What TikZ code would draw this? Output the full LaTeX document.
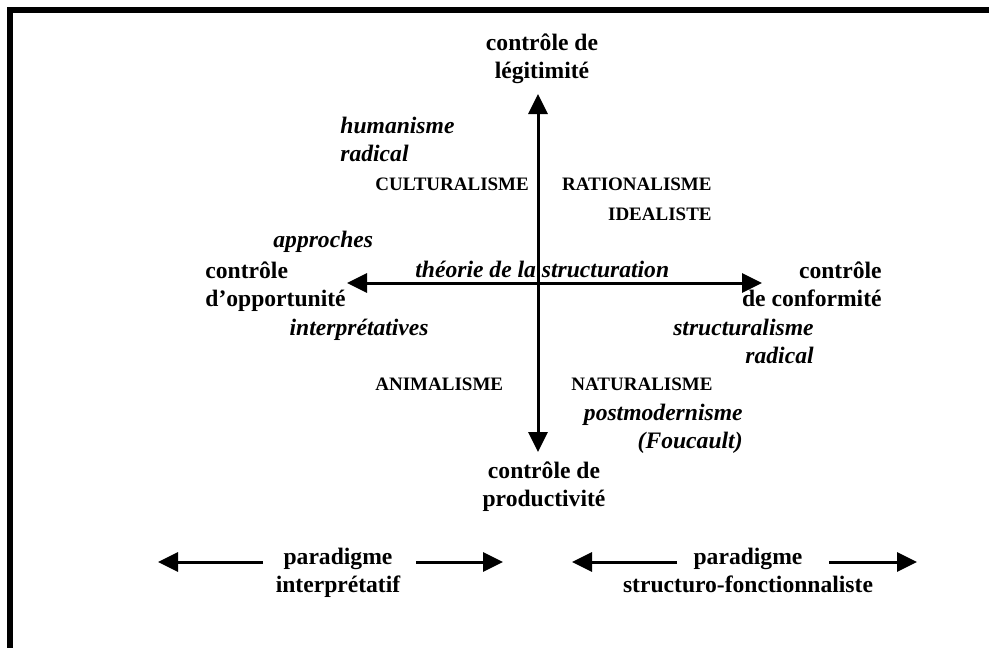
\documentclass[tikz,border=0pt]{standalone}
\usepackage{fontspec}
\setmainfont{Liberation Serif}
\usetikzlibrary{arrows.meta}

\begin{document}
\begin{tikzpicture}[x=0.5pt,y=-0.5pt]

  \tikzset{
    axislabel/.style={
      inner sep=0pt,
      align=center,
      font=\bfseries\fontsize{11.8}{14}\selectfont
    },
    schoollabel/.style={
      inner sep=0pt,
      font=\bfseries\itshape\fontsize{11.8}{14}\selectfont
    },
    capslabel/.style={
      inner sep=0pt,
      font=\bfseries\fontsize{9.5}{15}\selectfont
    },
    axisarrow/.style={
      line width=1.5pt,
      {Triangle[width=9.5pt,length=10pt]}-{Triangle[width=9.5pt,length=10pt]}
    },
    halfarrow/.style={
      line width=1.5pt,
      -{Triangle[width=9.5pt,length=10pt]}
    }
  }

  \useasboundingbox (0,0) rectangle (989,648);

  % frame
  \draw[line width=3pt, line join=miter] (989,10) -- (10,10) -- (10,648);

  % the two axes
  \coordinate (ytop) at (538,94);
  \coordinate (ybot) at (538,452);
  \coordinate (xleft) at (347,283);
  \coordinate (xright) at (762,283);

  \draw[axisarrow] (ybot) -- (ytop);
  \draw[axisarrow] (xleft) -- (xright);

  \node[axislabel, anchor=base] (legit) at (542,78) {contrôle de\\légitimité};
  \node[axislabel, anchor=base] (produc) at (544,506) {contrôle de\\productivité};
  \node[axislabel, anchor=base west, align=left] (opport) at (205,306) {contrôle\\d’opportunité};
  \node[axislabel, anchor=base east, align=right] (conform) at (882,306) {contrôle\\de conformité};

  % schools
  \node[schoollabel, anchor=base west, align=left] (human) at (340,161) {humanisme\\radical};
  \node[capslabel, anchor=base west] (cultur) at (375,190) {CULTURALISME};
  \node[capslabel, anchor=base east, align=right] (ration) at (712,220) {RATIONALISME\\IDEALISTE};
  \node[schoollabel, anchor=base west] (approch) at (273,247) {approches};
  \node[schoollabel, anchor=base west] (theorie) at (415,277) {théorie de la structuration};
  \node[schoollabel, anchor=base east] (interp) at (429,335) {interprétatives};
  \node[schoollabel, anchor=base east, align=right] (structu) at (814,363) {structuralisme\\radical};
  \node[capslabel, anchor=base west] (animal) at (375,390) {ANIMALISME};
  \node[capslabel, anchor=base west] (natural) at (571,390) {NATURALISME};
  \node[schoollabel, anchor=base east, align=right] (postmod) at (743,448) {postmodernisme\\(Foucault)};

  % paradigms
  \node[axislabel, anchor=base] (paraint) at (338,592) {paradigme\\interprétatif};
  \node[axislabel, anchor=base] (parastr) at (748,592) {paradigme\\structuro-fonctionnaliste};

  \coordinate (intl) at (158,562);
  \coordinate (intla) at (263,562);
  \coordinate (intra) at (416,562);
  \coordinate (intr) at (503,562);
  \coordinate (strl) at (572,562);
  \coordinate (strla) at (677,562);
  \coordinate (strra) at (829,562);
  \coordinate (strr) at (917,562);

  \draw[halfarrow] (intla) -- (intl);
  \draw[halfarrow] (intra) -- (intr);
  \draw[halfarrow] (strla) -- (strl);
  \draw[halfarrow] (strra) -- (strr);

\end{tikzpicture}
\end{document}
